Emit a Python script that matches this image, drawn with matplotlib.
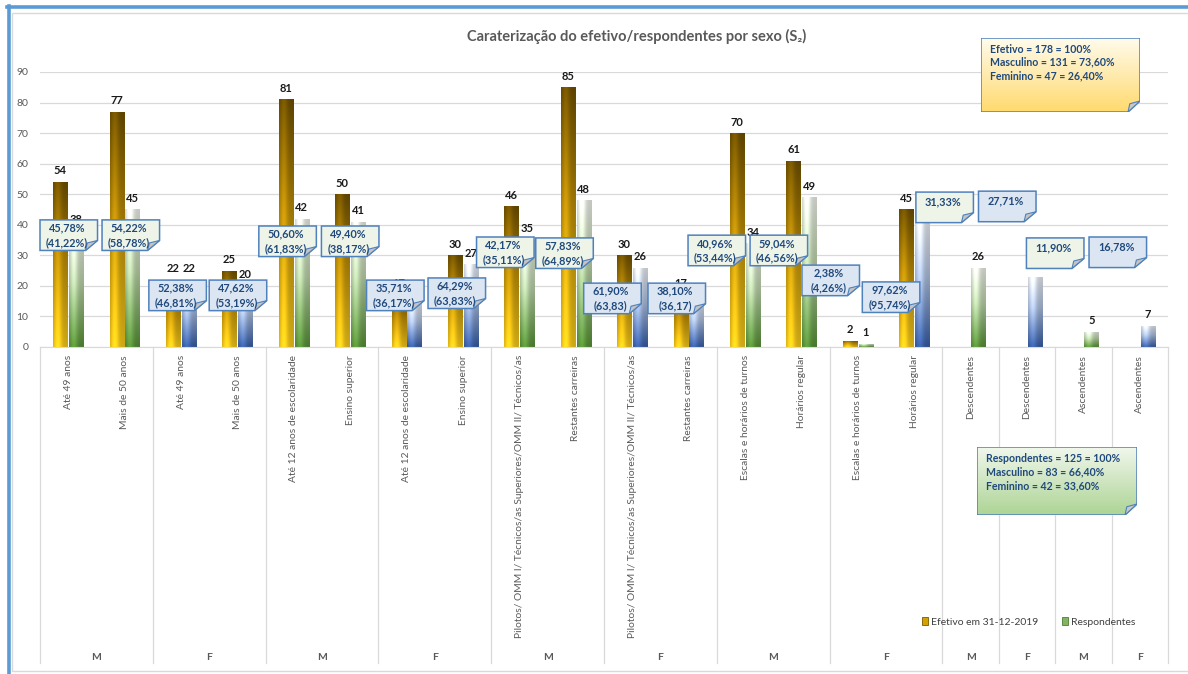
import numpy as np
import matplotlib.pyplot as plt
from matplotlib.colors import to_rgb
from matplotlib.patches import Polygon, Patch, Rectangle
from matplotlib.lines import Line2D
from matplotlib import transforms

plt.rcParams['font.family'] = ['Lato', 'DejaVu Sans']

# ---- data -------------------------------------------------------------
categories = ['Até 49 anos', 'Mais de 50 anos', 'Até 49 anos', 'Mais de 50 anos',
              'Até 12 anos de escolaridade', 'Ensino superior',
              'Até 12 anos de escolaridade', 'Ensino superior',
              'Pilotos/ OMM I/ Técnicos/as Superiores/OMM II/ Técnicos/as', 'Restantes carreiras',
              'Pilotos/ OMM I/ Técnicos/as Superiores/OMM II/ Técnicos/as', 'Restantes carreiras',
              'Escalas e horários de turnos', 'Horários regular',
              'Escalas e horários de turnos', 'Horários regular',
              'Descendentes', 'Descendentes', 'Ascendentes', 'Ascendentes']
sexes = ['M', 'M', 'F', 'F', 'M', 'M', 'F', 'F', 'M', 'M',
         'F', 'F', 'M', 'M', 'F', 'F', 'M', 'F', 'M', 'F']
efetivo = [54, 77, 22, 25, 81, 50, 17, 30, 46, 85,
           30, 17, 70, 61, 2, 45, np.nan, np.nan, np.nan, np.nan]
respondentes = [38, 45, 22, 20, 42, 41, 15, 27, 35, 48,
                26, 16, 34, 49, 1, 41, 26, 23, 5, 7]
resp_colour = ['green', 'green', 'blue', 'blue', 'green', 'green', 'blue', 'blue', 'green', 'green',
               'blue', 'blue', 'green', 'green', 'green', 'blue', 'green', 'blue', 'green', 'blue']
pct_labels = ['45,78%\n(41,22%)', '54,22%\n(58,78%)', '52,38%\n(46,81%)', '47,62%\n(53,19%)',
              '50,60%\n(61,83%)', '49,40%\n(38,17%)', '35,71%\n(36,17%)', '64,29%\n(63,83%)',
              '42,17%\n(35,11%)', '57,83%\n(64,89%)', '61,90%\n(63,83)', '38,10%\n(36,17)',
              '40,96%\n(53,44%)', '59,04%\n(46,56%)', '2,38%\n(4,26%)', '97,62%\n(95,74%)',
              '31,33%', '27,71%', '11,90%', '16,78%']
efetivo_box = ['Efetivo = 178 = 100%', 'Masculino = 131 = 73,60%', 'Feminino = 47 = 26,40%']
resp_box = ['Respondentes = 125 = 100%', 'Masculino = 83 = 66,40%', 'Feminino = 42 = 33,60%']

# callout placement (category units / value units)
callout_x = [0.01, 1.11, 1.94, 3.01, 3.89, 5.00, 5.80, 6.89, 7.75, 8.80,
             9.65, 10.79, 11.50, 12.60, 13.52, 14.59, 15.54, 16.65, 17.50, 18.61]
callout_top = [41.6, 41.6, 21.9, 21.9, 39.6, 39.6, 21.9, 22.6, 36.0, 35.7,
               20.9, 20.9, 36.6, 36.6, 26.8, 21.3, 50.7, 51.0, 35.7, 36.0]

# ---- styles -----------------------------------------------------------
W, H = 1188, 674
TXT = '#595959'
NAVY = '#1F497D'
EDGE = '#4F81BD'
gold_stops = [(0.0, '#745400'), (0.45, '#C39208'), (1.0, '#FFD21C')]
green_stops = [(0.0, '#F6F9F2'), (0.45, '#C2DBB0'), (1.0, '#5A9638')]
blue_stops = [(0.0, '#F3F6FB'), (0.45, '#B3C6E6'), (1.0, '#3961AC')]
callout_fill = {'M': '#EEF4E7', 'F': '#DCE6F2'}


def ramp(stops, n=80):
    t = np.linspace(0, 1, n)
    pos = [s[0] for s in stops]
    cols = np.array([to_rgb(s[1]) for s in stops])
    return np.stack([np.interp(t, pos, cols[:, k]) for k in range(3)], axis=1)


def shade_bar(ax, rect, stops):
    x, y = rect.get_x(), rect.get_y()
    w, h = rect.get_width(), rect.get_height()
    if not np.isfinite(h) or h <= 0:
        return
    col = ramp(stops)
    u = np.linspace(0, 1, 40)
    f = 0.80 + 0.30 * np.exp(-((u - 0.32) / 0.26) ** 2)
    img = np.clip(col[:, None, :] * f[None, :, None], 0, 1)
    im = ax.imshow(img, extent=(x, x + w, y, y + h), origin='upper', aspect='auto',
                   interpolation='bilinear', zorder=2.1)
    im.set_clip_path(rect)


def folded(x0, y0, x1, y1, fx, fy):
    body = [(x0, y1), (x1, y1), (x1, y0 + fy), (x1 - fx, y0), (x0, y0)]
    flap = [(x1 - fx, y0), (x1, y0 + fy), (x1 - 0.85 * fx, y0 + 0.75 * fy)]
    return body, flap


def note_box(fig, px, stops, lines, ys):
    x0, y0, x1, y1 = px
    nax = fig.add_axes([x0 / W, 1 - y1 / H, (x1 - x0) / W, (y1 - y0) / H])
    nax.set_xlim(0, 1)
    nax.set_ylim(0, 1)
    nax.axis('off')
    fx, fy = 12 / (x1 - x0), 11 / (y1 - y0)
    body, flap = folded(0, 0, 1, 1, fx, fy)
    poly = Polygon(body, closed=True, facecolor='none', edgecolor=EDGE, lw=1.1, zorder=3)
    nax.add_patch(poly)
    img = ramp(stops)[:, None, :]
    im = nax.imshow(img, extent=(0, 1, 0, 1), origin='upper', aspect='auto', zorder=1)
    im.set_clip_path(poly)
    nax.add_patch(Polygon(flap, closed=True, facecolor='#C8C8C8', edgecolor=EDGE, lw=0.8, zorder=4))
    for s, yy in zip(lines, ys):
        nax.text(0.056, yy, s, fontsize=7.6, fontweight='bold', color=NAVY, va='center', ha='left')


# ---- figure -----------------------------------------------------------
fig = plt.figure(figsize=(W / 100, H / 100), dpi=100)
fig.patch.set_facecolor('white')

# outer frame
fig.add_artist(Rectangle((12 / W, 1 - 671 / H), (W - 11) / W, (671 - 13) / H,
                         transform=fig.transFigure, facecolor='none', edgecolor='#D9D9D9', lw=1))
fig.add_artist(Line2D([7 / W, 1], [1 - 7 / H, 1 - 7 / H], transform=fig.transFigure,
                      color='#5B9BD5', lw=2.6))
fig.add_artist(Line2D([8.5 / W, 8.5 / W], [0, 1 - 6 / H], transform=fig.transFigure,
                      color='#5B9BD5', lw=2.6))

ax = fig.add_axes([40 / W, 1 - 347 / H, 1128 / W, 275 / H])
n = len(categories)
x = np.arange(n)
off, bw = 0.14, 0.25

bars_e = ax.bar(x - off, efetivo, bw, color='#C39208', lw=0, zorder=2)
bars_r = ax.bar(x + off, respondentes, bw, color='#8DB870', lw=0, zorder=2)
for r in bars_e:
    shade_bar(ax, r, gold_stops)
for r, c in zip(bars_r, resp_colour):
    shade_bar(ax, r, green_stops if c == 'green' else blue_stops)

for xs, vals in ((x - off, efetivo), (x + off, respondentes)):
    for xi, v in zip(xs, vals):
        if np.isfinite(v):
            ax.annotate(f'{int(v)}', (xi, v), xytext=(0, 4), textcoords='offset points',
                        ha='center', va='bottom', fontsize=8, fontweight='bold',
                        color='#1A1A1A', zorder=4)

# callouts
bw_c, bh_c = 1.02, 10.0
fx_c, fy_c = 12 / 56.4, 10 / 3.056
for i, (lab, cx, top) in enumerate(zip(pct_labels, callout_x, callout_top)):
    x0, x1 = cx - bw_c / 2, cx + bw_c / 2
    y1, y0 = top, top - bh_c
    body, flap = folded(x0, y0, x1, y1, fx_c, fy_c)
    ax.add_patch(Polygon(body, closed=True, facecolor=callout_fill[sexes[i]],
                         edgecolor=EDGE, lw=1.1, zorder=6, clip_on=False))
    ax.add_patch(Polygon(flap, closed=True, facecolor='#C4C4C4',
                         edgecolor=EDGE, lw=0.8, zorder=6.5, clip_on=False))
    ty = top - bh_c * (0.5 if '\n' in lab else 0.33)
    ax.text(cx - 0.03, ty, lab, ha='center', va='center', fontsize=7.8, fontweight='bold',
            color=NAVY, linespacing=1.35, zorder=7)

ax.set_xlim(-0.5, n - 0.5)
ax.set_ylim(0, 90)
ax.set_yticks(np.arange(0, 91, 10))
ax.tick_params(axis='y', length=0, labelsize=7.5, labelcolor=TXT, pad=8.5)
ax.set_xticks([])
ax.yaxis.grid(True, color='#D9D9D9', lw=0.9)
ax.set_axisbelow(True)
for s in ('top', 'right', 'left'):
    ax.spines[s].set_visible(False)
ax.spines['bottom'].set_color('#D9D9D9')

# multi-level category axis
blend = transforms.blended_transform_factory(ax.transData, ax.transAxes)
for i, lab in enumerate(categories):
    ax.text(i, -8 / 275, lab, transform=blend, rotation=90, ha='center', va='top',
            fontsize=7.4, color=TXT, clip_on=False)
runs = []
start = 0
for i in range(1, n + 1):
    if i == n or sexes[i] != sexes[start] or i - start == 2:
        runs.append((start, i, sexes[start]))
        start = i
edges = [-0.5] + [r[1] - 0.5 for r in runs]
for e in edges:
    ax.plot([e, e], [0, -316 / 275], transform=blend, color='#D9D9D9', lw=0.9, clip_on=False)
for a, b, s in runs:
    ax.text((a + b - 1) / 2, -311 / 275, s, transform=blend, ha='center', va='center',
            fontsize=7.5, fontweight='bold', color=TXT, clip_on=False)

# title
fig.text(637 / W, 1 - 36 / H, 'Caraterização do efetivo/respondentes por sexo (S₂)',
         ha='center', va='center', fontsize=10.5, fontweight='bold', color=TXT)

# info notes
note_box(fig, (981, 38, 1140, 112), [(0, '#FFFBEC'), (1, '#FFDA6E')], efetivo_box,
         [0.85, 0.676, 0.486])
note_box(fig, (977, 447, 1137, 515), [(0, '#F1F7EC'), (1, '#ADD495')], resp_box,
         [0.824, 0.632, 0.426])

# legend
handles = [Patch(facecolor='#D4A200', edgecolor='#7A5A00', lw=0.6),
           Patch(facecolor='#84B463', edgecolor='#4E7F31', lw=0.6)]
fig.legend(handles, ['Efetivo em 31-12-2019', 'Respondentes'], loc='center left',
           bbox_to_anchor=(922 / W, 1 - 622 / H), ncol=2, frameon=False, fontsize=7.5,
           handlelength=0.55, handleheight=0.8, handletextpad=0.3, columnspacing=2.3,
           labelcolor='#404040', borderpad=0, borderaxespad=0)

fig.savefig('out.png', dpi=100)
